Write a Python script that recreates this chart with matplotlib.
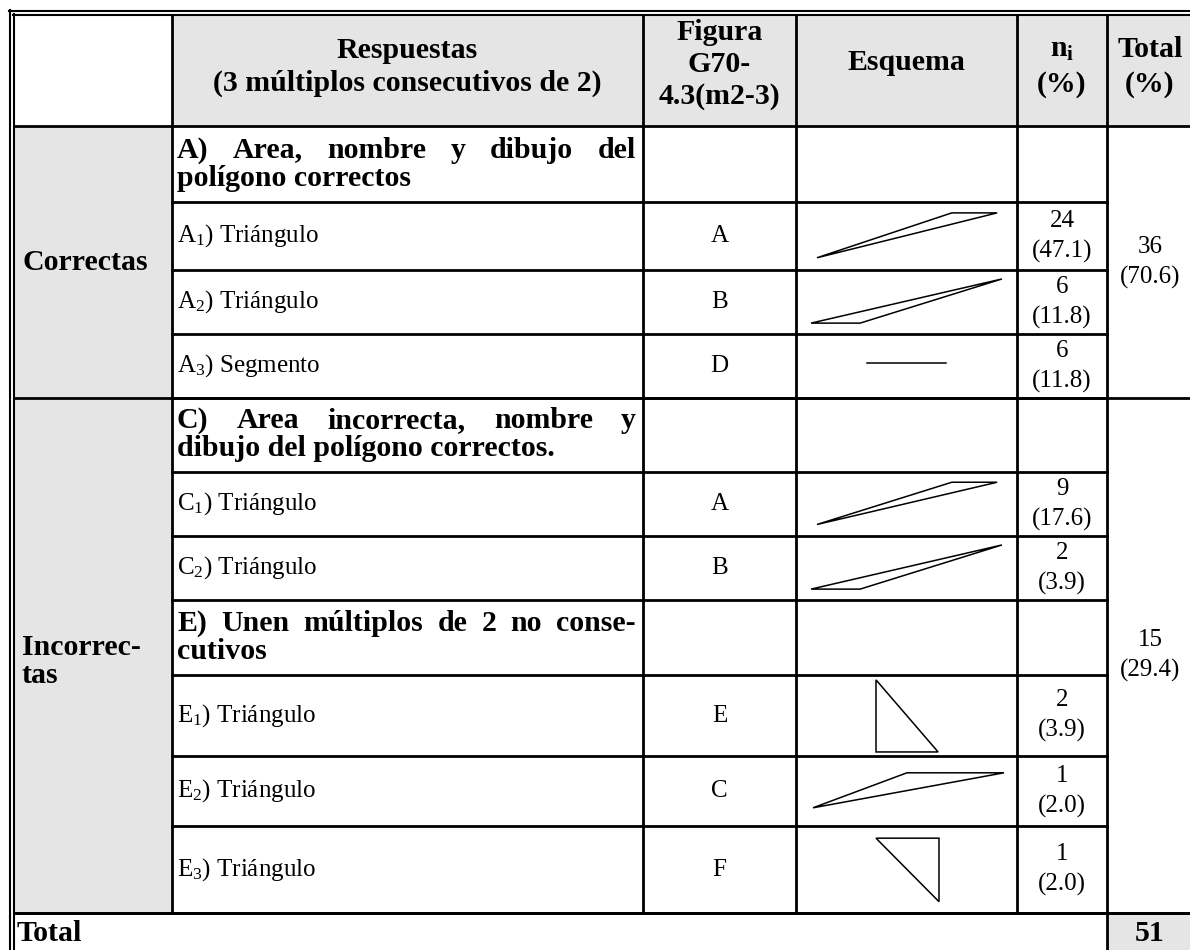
import numpy as np
import matplotlib.pyplot as plt
from matplotlib.patches import Rectangle, Polygon

plt.rcParams['font.family'] = ['Liberation Serif', 'DejaVu Serif']
plt.rcParams['mathtext.fontset'] = 'custom'
plt.rcParams['mathtext.rm'] = 'Liberation Serif'
plt.rcParams['mathtext.bf'] = 'Liberation Serif:bold'
plt.rcParams['mathtext.it'] = 'Liberation Serif:italic'

# ---- table content ----
head_resp = ['Respuestas', '(3 múltiplos consecutivos de 2)']
head_fig = ['Figura', 'G70-', '4.3(m2-3)']
head_esq = ['Esquema']
head_ni = [r'$\mathbf{n_i}$', '(%)']
head_tot = ['Total', '(%)']

group_labels = [['Correctas'], ['Incorrec-', 'tas']]
group_n = [36, 15]
group_pct = [70.6, 29.4]

section_text = [['A) Area, nombre y dibujo del', 'polígono correctos'],
                ['C) Area incorrecta, nombre y', 'dibujo del polígono correctos.'],
                ['E) Unen múltiplos de 2 no conse-', 'cutivos']]
section_group = [0, 1, 1]
section_letter = ['A', 'C', 'E']
section_size = [3, 2, 3]

item_name = ['Triángulo', 'Triángulo', 'Segmento',
             'Triángulo', 'Triángulo',
             'Triángulo', 'Triángulo', 'Triángulo']
item_figure = ['A', 'B', 'D', 'A', 'B', 'E', 'C', 'F']
item_n = [24, 6, 6, 9, 2, 2, 1, 1]
item_pct = [47.1, 11.8, 11.8, 17.6, 3.9, 3.9, 2.0, 2.0]
total_n = 51

# sketch of each figure, in fractions of the Esquema cell
sketch = {
    'A': [(0.095, 0.82), (0.705, 0.16), (0.91, 0.16)],
    'B': [(0.068, 0.83), (0.29, 0.83), (0.932, 0.14)],
    'C': [(0.077, 0.74), (0.502, 0.24), (0.941, 0.24)],
    'D': [(0.32, 0.45), (0.68, 0.45)],
    'E': [(0.362, 0.06), (0.362, 0.95), (0.643, 0.95)],
    'F': [(0.362, 0.14), (0.647, 0.14), (0.647, 0.87)],
}

# ---- layout (pixels) ----
W, H = 1190, 950
xe = [14, 172, 643, 796, 1017, 1107, 1193]
ye = [15, 126, 202, 270, 334, 398, 472, 536, 600, 675, 756, 826, 913]
grey = '#e5e5e5'
LW = 2.0
BOLD = 21.5
REG = 18

fig = plt.figure(figsize=(W / 100, H / 100), dpi=100)
ax = fig.add_axes([0, 0, 1, 1])
ax.set_xlim(0, W)
ax.set_ylim(H, 0)
ax.axis('off')
rend = fig.canvas.get_renderer()


def cx(c):
    return (xe[c] + xe[c + 1]) / 2


def lines_at(x, yc, lines, spacing, **kw):
    n = len(lines)
    for i, s in enumerate(lines):
        ax.text(x, yc + (i - (n - 1) / 2) * spacing, s, va='center', **kw)


def justified(words, x0, x1, y, **kw):
    ts = [ax.text(0, y, w, ha='left', va='center', **kw) for w in words]
    ws = [t.get_window_extent(rend).width for t in ts]
    gap = (x1 - x0 - sum(ws)) / (len(ws) - 1)
    x = x0
    for t, w in zip(ts, ws):
        t.set_x(x)
        x += w + gap


# grey fills
ax.add_patch(Rectangle((xe[1], ye[0]), xe[6] - xe[1], ye[1] - ye[0], color=grey, lw=0))
ax.add_patch(Rectangle((xe[0], ye[1]), xe[1] - xe[0], ye[-1] - ye[1], color=grey, lw=0))
ax.add_patch(Rectangle((xe[5], ye[-1]), xe[6] - xe[5], H - ye[-1], color=grey, lw=0))

# double outer border (top, left)
ax.plot([9, W], [11, 11], color='k', lw=1.5)
ax.plot([13, W], [15, 15], color='k', lw=1.5)
ax.plot([10, 10], [10, H], color='k', lw=1.5)
ax.plot([14, 14], [14, H], color='k', lw=1.5)

# vertical grid lines
for c in range(1, 5):
    ax.plot([xe[c], xe[c]], [ye[0], ye[-1]], color='k', lw=LW)
ax.plot([xe[5], xe[5]], [ye[0], H], color='k', lw=LW)

# horizontal grid lines
ax.plot([xe[0], xe[6]], [ye[1], ye[1]], color='k', lw=LW)
ax.plot([xe[0], xe[6]], [ye[-1], ye[-1]], color='k', lw=LW)

# header
hy = 67
lines_at(cx(1), hy, head_resp, 33, ha='center', fontsize=BOLD, fontweight='bold')
lines_at(cx(2), hy - 2, head_fig, 32, ha='center', fontsize=BOLD, fontweight='bold')
lines_at(cx(3), hy - 4, head_esq, 33, ha='center', fontsize=BOLD, fontweight='bold')
lines_at(cx(4), hy, head_ni, 35, ha='center', fontsize=BOLD, fontweight='bold')
lines_at(cx(5), hy, head_tot, 35, ha='center', fontsize=BOLD, fontweight='bold')

# body rows
r = 1
it = 0
group_rows = [[], []]
for s, lines in enumerate(section_text):
    g = section_group[s]
    y0, y1 = ye[r], ye[r + 1]
    group_rows[g].append(r)
    ax.plot([xe[1], xe[5]], [y1, y1], color='k', lw=LW)
    yc = (y0 + y1) / 2
    justified(lines[0].split(' '), xe[1] + 5, xe[2] - 7, yc - 14,
              fontsize=BOLD, fontweight='bold')
    ax.text(xe[1] + 5, yc + 14, lines[1], va='center', fontsize=BOLD, fontweight='bold')
    r += 1
    for k in range(section_size[s]):
        y0, y1 = ye[r], ye[r + 1]
        group_rows[g].append(r)
        yc = (y0 + y1) / 2
        ax.plot([xe[1], xe[5]], [y1, y1], color='k', lw=LW)
        label = section_letter[s] + r'$\mathregular{_%d}$) ' % (k + 1) + item_name[it]
        ax.text(xe[1] + 5, yc, label, va='center', fontsize=REG)
        ax.text(cx(2), yc, item_figure[it], ha='center', va='center', fontsize=REG)
        pts = np.array(sketch[item_figure[it]])
        px = xe[3] + pts[:, 0] * (xe[4] - xe[3])
        py = y0 + pts[:, 1] * (y1 - y0)
        if len(pts) == 2:
            ax.plot(px, py, color='k', lw=1.1)
        else:
            ax.add_patch(Polygon(np.column_stack([px, py]), closed=True,
                                 fill=False, ec='k', lw=1.1, joinstyle='miter'))
        lines_at(cx(4), yc, [str(item_n[it]), '(%.1f)' % item_pct[it]], 30,
                 ha='center', fontsize=REG)
        r += 1
        it += 1

# group column and total column
for g in range(2):
    top = ye[group_rows[g][0]]
    bot = ye[group_rows[g][-1] + 1]
    ax.plot([xe[0], xe[6]], [bot, bot], color='k', lw=LW)
    ymid = (top + bot) / 2 + (6 if g == 1 else 0)
    lines_at(xe[0] + 8, ymid, group_labels[g], 28, ha='left',
             fontsize=BOLD, fontweight='bold')
    ttop = ye[1] if g == 0 else top
    lines_at(cx(5), (ttop + bot) / 2, [str(group_n[g]), '(%.1f)' % group_pct[g]], 30,
             ha='center', fontsize=REG)

# total row
ty = (ye[-1] + H) / 2 + 2
ax.text(xe[0] + 3, ty, 'Total', va='center', fontsize=BOLD, fontweight='bold')
ax.text(cx(5), ty, str(total_n), ha='center', va='center', fontsize=BOLD, fontweight='bold')

fig.savefig('out.png', dpi=100)
